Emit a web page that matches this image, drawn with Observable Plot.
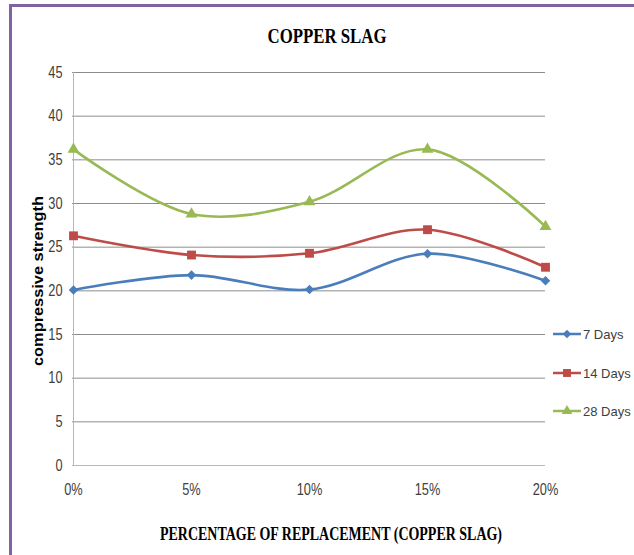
<!DOCTYPE html>
<html>
<head>
<meta charset="utf-8">
<script src="https://cdn.jsdelivr.net/npm/d3@7"></script>
<script src="https://cdn.jsdelivr.net/npm/@observablehq/plot@0.6"></script>
<style>
  html, body { margin: 0; padding: 0; background: #fff; }
  #wrap { position: relative; width: 634px; height: 555px; overflow: hidden; background: #fff; }
  .bar { position: absolute; background: #8064A2; }
</style>
</head>
<body>
<div id="wrap">
  <div class="bar" style="left:9px; top:4px; width:2.5px; height:551px;"></div>
  <div class="bar" style="left:9px; top:4px; width:625px; height:2.5px;"></div>
</div>
<script>
// ---- data ----
const categories = ["0%", "5%", "10%", "15%", "20%"];
const days7  = [20.1, 21.8, 20.15, 24.25, 21.15];
const days14 = [26.3, 24.1, 24.3, 27.0, 22.7];
const days28 = [36.2, 28.8, 30.2, 36.2, 27.35];
const seriesNames = ["7 Days", "14 Days", "28 Days"];
const seriesValues = [days7, days14, days28];
const seriesColors = ["#4A7EBB", "#BE4B48", "#98B954"];
const seriesSymbols = ["diamond2", "square", "triangle"];
const seriesR = [4.3, 5.0, 4.4];
const yTicks = [0, 5, 10, 15, 20, 25, 30, 35, 40, 45];
const titleText = "COPPER SLAG";
const xTitle = "PERCENTAGE OF REPLACEMENT (COPPER SLAG)";
const yTitle = "compressive strength";

const rows = seriesNames.flatMap((name, i) =>
  categories.map((c, j) => ({series: name, cat: c, value: seriesValues[i][j]})));

const sans = "'Liberation Sans', Arial, sans-serif";

const seriesMarks = seriesNames.flatMap((name, i) => {
  const d = rows.filter(r => r.series === name);
  return [
    Plot.line(d, {x: "cat", y: "value", curve: "catmull-rom", stroke: seriesColors[i], strokeWidth: 2.6}),
    Plot.dot(d, {x: "cat", y: "value", symbol: seriesSymbols[i], r: seriesR[i], fill: seriesColors[i], stroke: "none"})
  ];
});

const chart = Plot.plot({
  width: 634, height: 555,
  marginLeft: 72, marginRight: 89, marginTop: 72, marginBottom: 90,
  style: {background: "transparent", color: "#404040", fontFamily: sans, overflow: "visible"},
  x: {type: "point", domain: categories, padding: 0, label: null},
  y: {domain: [0, 45], ticks: yTicks, label: null},
  marks: [
    Plot.gridY(yTicks.filter(d => d > 0), {stroke: "#8c8c8c", strokeOpacity: 1}),
    Plot.ruleX([categories[0]], {stroke: "#b8b8b8"}),
    Plot.ruleY([0], {stroke: "#b8b8b8"}),
    Plot.axisY(yTicks, {tickSize: 0, tickPadding: 10, fontSize: 16, label: null}),
    Plot.axisX({tickSize: 0, tickPadding: 18, fontSize: 16, label: null}),
    ...seriesMarks
  ]
});
chart.style.position = "absolute";
chart.style.left = "0px";
chart.style.top = "0px";
document.getElementById("wrap").appendChild(chart);

const svg = d3.select(chart);
// narrow the tick labels (Calibri-like condensed look)
svg.selectAll("g[aria-label='y-axis tick label'] text, g[aria-label='x-axis tick label'] text").each(function() {
  const len = this.getComputedTextLength();
  this.setAttribute("textLength", (len * 0.8).toFixed(1));
  this.setAttribute("lengthAdjust", "spacingAndGlyphs");
});
// title
svg.append("text")
  .attr("x", 327).attr("y", 43)
  .attr("text-anchor", "middle")
  .attr("font-family", "'Liberation Serif', 'Times New Roman', serif")
  .attr("font-weight", "bold").attr("font-size", 20)
  .attr("fill", "#000")
  .attr("textLength", 119).attr("lengthAdjust", "spacingAndGlyphs")
  .text(titleText);
// x title
svg.append("text")
  .attr("x", 331).attr("y", 540)
  .attr("text-anchor", "middle")
  .attr("font-family", "'Liberation Serif', 'Times New Roman', serif")
  .attr("font-weight", "bold").attr("font-size", 18)
  .attr("fill", "#000")
  .attr("textLength", 342).attr("lengthAdjust", "spacingAndGlyphs")
  .text(xTitle);
// y title
svg.append("text")
  .attr("transform", "translate(43,281) rotate(-90)")
  .attr("text-anchor", "middle")
  .attr("font-family", sans)
  .attr("font-weight", "bold").attr("font-size", 15)
  .attr("fill", "#000")
  .attr("textLength", 170).attr("lengthAdjust", "spacingAndGlyphs")
  .text(yTitle);

// legend
const symMap = {diamond2: d3.symbolDiamond2 || d3.symbolDiamond, square: d3.symbolSquare, triangle: d3.symbolTriangle};
const legendY = [334, 373, 411];
const lg = svg.append("g");
seriesNames.forEach((name, i) => {
  const y = legendY[i];
  lg.append("line").attr("x1", 553).attr("x2", 581).attr("y1", y).attr("y2", y)
    .attr("stroke", seriesColors[i]).attr("stroke-width", 2.5);
  lg.append("path")
    .attr("d", d3.symbol(symMap[seriesSymbols[i]], Math.PI * seriesR[i] * seriesR[i] * 0.8)())
    .attr("transform", `translate(567,${y})`)
    .attr("fill", seriesColors[i]);
  lg.append("text").attr("x", 583).attr("y", y).attr("dy", "0.35em")
    .attr("text-anchor", "start")
    .attr("font-family", sans).attr("font-size", 13).attr("fill", "#404040")
    .text(name);
});
</script>
</body>
</html>
